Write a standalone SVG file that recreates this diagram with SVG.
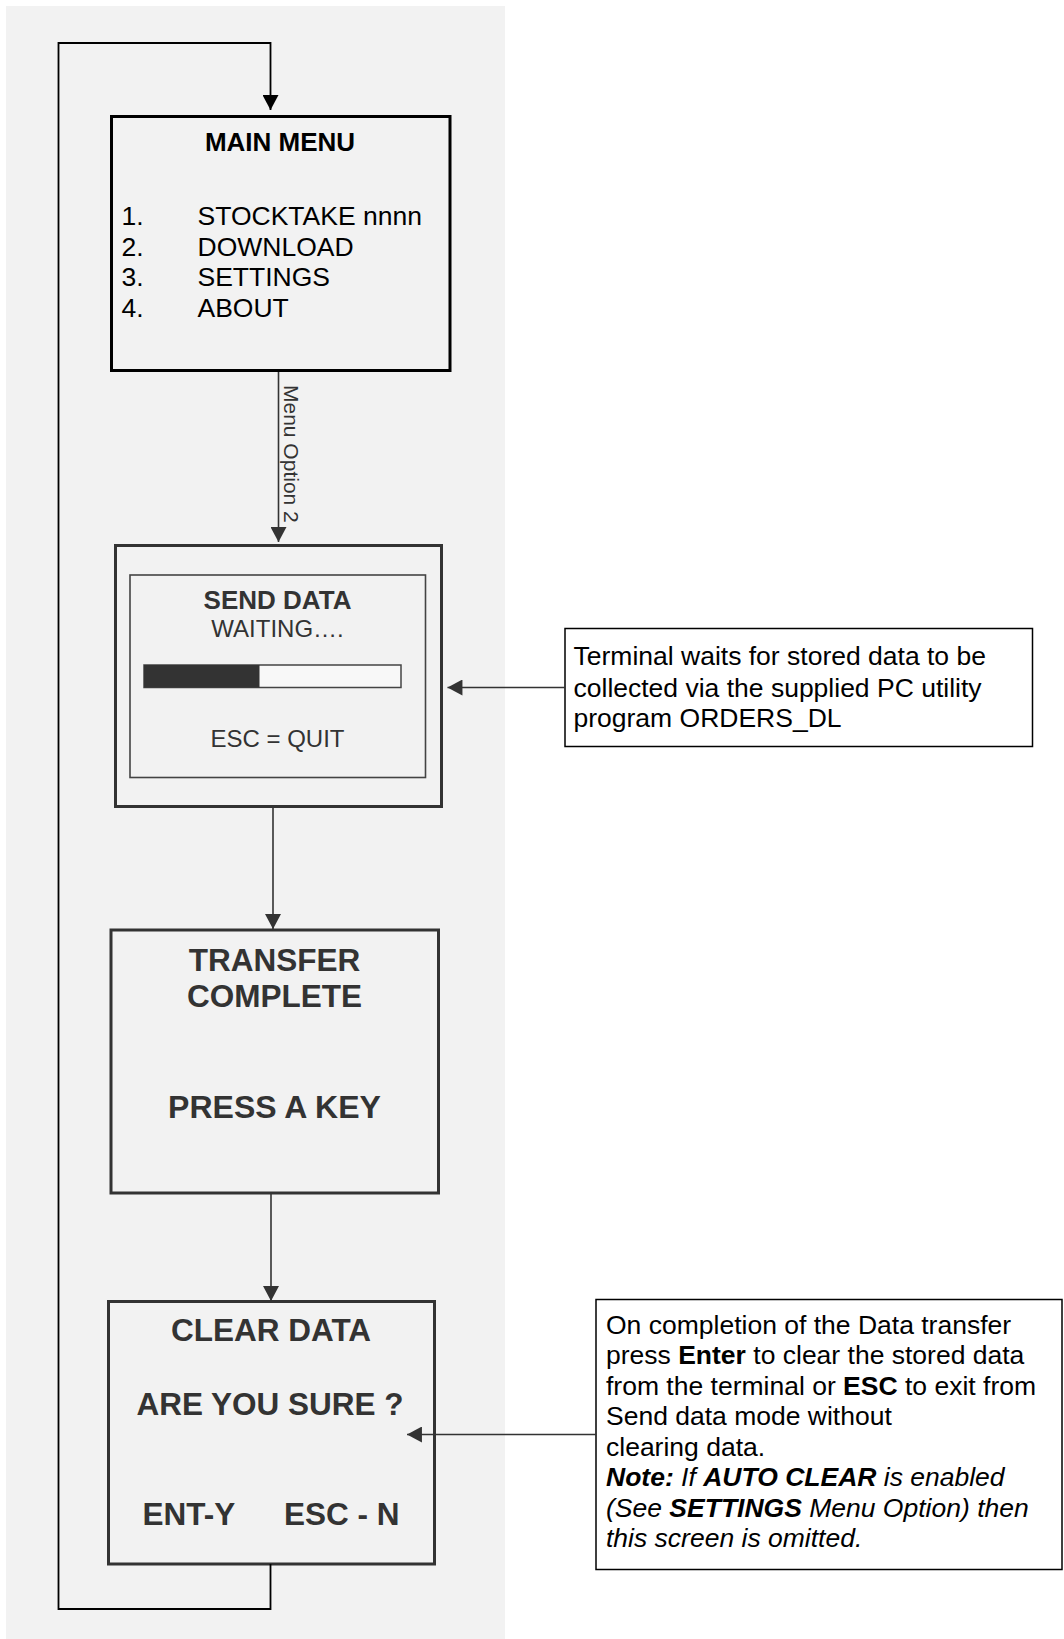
<svg xmlns="http://www.w3.org/2000/svg" width="1064" height="1639" viewBox="0 0 1064 1639">
  <style>
    .screen { fill: #f2f2f2; stroke: #333; stroke-width: 3; }
    .note { fill: #ffffff; stroke: #000; stroke-width: 1.5; }
    .flow { fill: none; stroke: #333; stroke-width: 1.6; }
    .loop { fill: none; stroke: #000; stroke-width: 1.8; }
    text { font-family: "Liberation Sans", Arial, sans-serif; }
    .hd { font-weight: bold; fill: #333; text-anchor: middle; }
    .nt { font-size: 26.5px; fill: #000; }
    .b { font-weight: bold; }
    .i { font-style: italic; }
  </style>
  <defs>
    <marker id="arrowBlack" markerUnits="userSpaceOnUse" markerWidth="16" markerHeight="16" viewBox="0 0 14 15" refX="14" refY="7.5" orient="auto">
      <path d="M0,0 L14,7.5 L0,15 z" fill="#000"/>
    </marker>
    <marker id="arrowGrey" markerUnits="userSpaceOnUse" markerWidth="16" markerHeight="16" viewBox="0 0 14 15" refX="14" refY="7.5" orient="auto">
      <path d="M0,0 L14,7.5 L0,15 z" fill="#333"/>
    </marker>
  </defs>

  <!-- page background and shaded screen column -->
  <rect x="0" y="0" width="1064" height="1639" fill="#ffffff"/>
  <rect x="6" y="6" width="499" height="1633" fill="#f2f2f2"/>

  <!-- main menu screen -->
  <g id="main-menu">
    <rect x="111.5" y="116.5" width="338.5" height="254" fill="#f2f2f2" stroke="#000" stroke-width="3"/>
    <text x="280" y="150.5" font-size="26" font-weight="bold" text-anchor="middle" fill="#000">MAIN MENU</text>
    <g font-size="26.5" fill="#000">
      <text x="121.5" y="225">1.</text><text x="197.5" y="225">STOCKTAKE nnnn</text>
      <text x="121.5" y="255.5">2.</text><text x="197.5" y="255.5">DOWNLOAD</text>
      <text x="121.5" y="286">3.</text><text x="197.5" y="286">SETTINGS</text>
      <text x="121.5" y="317">4.</text><text x="197.5" y="317">ABOUT</text>
    </g>
  </g>

  <!-- send data screen -->
  <g id="send-data">
    <rect class="screen" x="115.5" y="545.5" width="326" height="261"/>
    <rect x="130" y="575" width="295.5" height="202.5" fill="#f2f2f2" stroke="#444" stroke-width="1.6"/>
    <text class="hd" x="277.5" y="608.5" font-size="26">SEND DATA</text>
    <text x="277.5" y="636.5" font-size="24" fill="#333" text-anchor="middle">WAITING….</text>
    <rect x="144" y="665" width="257" height="22.5" fill="#f8f8f8" stroke="#444" stroke-width="1.5"/>
    <rect x="144" y="665" width="115.5" height="22.5" fill="#333"/>
    <text x="277.5" y="746.5" font-size="24" fill="#333" text-anchor="middle">ESC = QUIT</text>
  </g>

  <!-- transfer complete screen -->
  <g id="transfer-complete">
    <rect class="screen" x="111" y="930" width="327.5" height="263"/>
    <text class="hd" x="274.5" y="970.5" font-size="31.5">TRANSFER</text>
    <text class="hd" x="274.5" y="1006.5" font-size="31.5">COMPLETE</text>
    <text class="hd" x="274.5" y="1117.5" font-size="32">PRESS A KEY</text>
  </g>

  <!-- clear data screen -->
  <g id="clear-data">
    <rect class="screen" x="108.5" y="1301.5" width="326" height="262.5"/>
    <text class="hd" x="271" y="1340.5" font-size="31.5">CLEAR DATA</text>
    <text class="hd" x="270" y="1415" font-size="31.5">ARE YOU SURE ?</text>
    <text x="142.5" y="1525" font-size="31.5" font-weight="bold" fill="#333">ENT-Y</text>
    <text x="284" y="1525" font-size="31.5" font-weight="bold" fill="#333">ESC - N</text>
  </g>

  <!-- note: waiting for PC utility -->
  <g id="note-waiting">
    <rect class="note" x="565" y="628.5" width="467.5" height="118"/>
    <text class="nt" x="573.5" y="665">Terminal waits for stored data to be</text>
    <text class="nt" x="573.5" y="696.5">collected via the supplied PC utility</text>
    <text class="nt" x="573.5" y="726.5">program ORDERS_DL</text>
  </g>

  <!-- note: clearing data -->
  <g id="note-clear">
    <rect class="note" x="596" y="1299.5" width="466" height="270"/>
    <text class="nt" x="606" y="1333.5">On completion of the Data transfer</text>
    <text class="nt" x="606" y="1364">press <tspan class="b">Enter</tspan> to clear the stored data</text>
    <text class="nt" x="606" y="1394.5">from the terminal or <tspan class="b">ESC</tspan> to exit from</text>
    <text class="nt" x="606" y="1425">Send data mode without</text>
    <text class="nt" x="606" y="1455.5">clearing data.</text>
    <text class="nt i" x="606" y="1486"><tspan class="b">Note:</tspan> If <tspan class="b">AUTO CLEAR</tspan> is enabled</text>
    <text class="nt i" x="606" y="1516.5">(See <tspan class="b">SETTINGS</tspan> Menu Option) then</text>
    <text class="nt i" x="606" y="1547">this screen is omitted.</text>
  </g>

  <!-- connectors, drawn over the screens so the pointer into CLEAR DATA shows -->
  <g id="connectors">
    <polyline class="loop" points="270.5,1564 270.5,1609 58.5,1609 58.5,43 270.5,43 270.5,110" marker-end="url(#arrowBlack)"/>
    <line class="flow" x1="278.5" y1="372" x2="278.5" y2="542" marker-end="url(#arrowGrey)"/>
    <text transform="translate(284,385) rotate(90)" font-size="21" fill="#333">Menu Option 2</text>
    <line class="flow" x1="273" y1="807" x2="273" y2="929" marker-end="url(#arrowGrey)"/>
    <line class="flow" x1="271" y1="1193" x2="271" y2="1301" marker-end="url(#arrowGrey)"/>
    <line class="flow" x1="565" y1="687.5" x2="447.5" y2="687.5" marker-end="url(#arrowGrey)"/>
    <line class="flow" x1="596" y1="1434.5" x2="407" y2="1434.5" marker-end="url(#arrowGrey)"/>
  </g>
</svg>
